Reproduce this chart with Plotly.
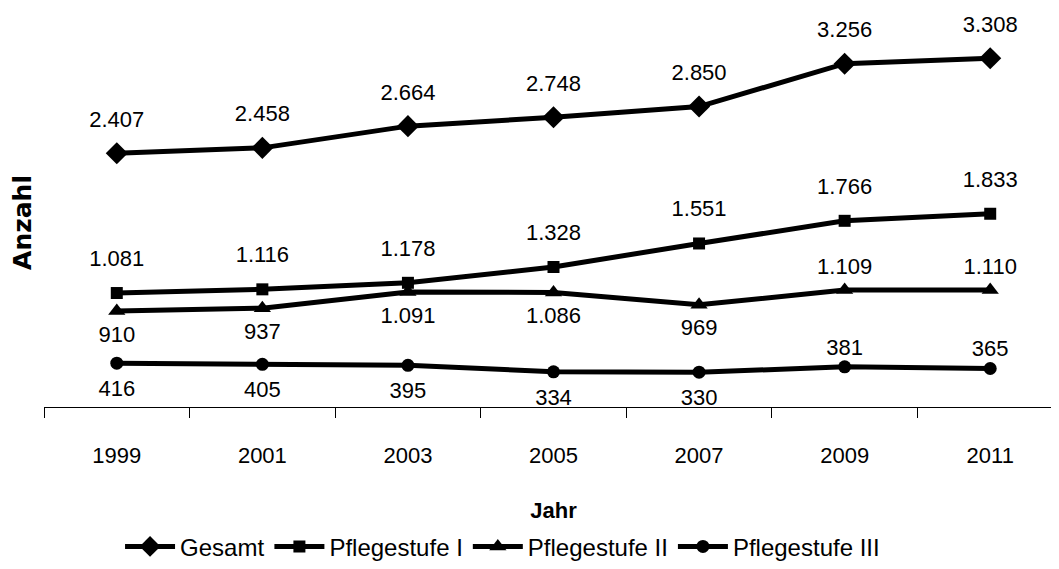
import plotly.graph_objects as go

years = ["1999", "2001", "2003", "2005", "2007", "2009", "2011"]
gesamt = [2407, 2458, 2664, 2748, 2850, 3256, 3308]
stufe1 = [1081, 1116, 1178, 1328, 1551, 1766, 1833]
stufe2 = [910, 937, 1091, 1086, 969, 1109, 1110]
stufe3 = [416, 405, 395, 334, 330, 381, 365]

series_names = ["Gesamt", "Pflegestufe I", "Pflegestufe II", "Pflegestufe III"]

# label placement (style)
pos_gesamt = ["top center"] * 7
pos_s1 = ["top center"] * 7
pos_s2 = ["bottom center"] * 5 + ["top center"] * 2
pos_s3 = ["bottom center"] * 5 + ["top center"] * 2
# invisible spacer marker sizes that set the label distance (style)
gap_gesamt = [32] * 7
gap_s1 = [33] * 7
gap_s2 = [21] * 5 + [15] * 2
gap_s3 = [25] * 5 + [9] * 2

FONT = "Liberation Sans, Arial, sans-serif"

styles = [
    dict(symbol="diamond", size=17),
    dict(symbol="square", size=12),
    dict(symbol="triangle-up", size=15),
    dict(symbol="circle", size=13),
]

fig = go.Figure()
all_vals = [gesamt, stufe1, stufe2, stufe3]
all_pos = [pos_gesamt, pos_s1, pos_s2, pos_s3]
all_gap = [gap_gesamt, gap_s1, gap_s2, gap_s3]
for name, vals, st in zip(series_names, all_vals, styles):
    fig.add_trace(go.Scatter(
        x=years, y=vals, name=name, mode="lines+markers",
        line=dict(color="black", width=5),
        marker=dict(symbol=st["symbol"], size=st["size"], color="black",
                    line=dict(width=0)),
    ))
for name, vals, pos, gap in zip(series_names, all_vals, all_pos, all_gap):
    fig.add_trace(go.Scatter(
        x=years, y=vals, name=name, mode="markers+text", showlegend=False,
        text=[f"{v:,}".replace(",", ".") for v in vals],
        textposition=pos,
        textfont=dict(family=FONT, size=22, color="black"),
        marker=dict(size=gap, color="rgba(0,0,0,0)", opacity=0,
                    line=dict(width=0, color="rgba(0,0,0,0)")),
        cliponaxis=False, hoverinfo="skip",
    ))

fig.update_layout(
    width=1059, height=569,
    margin=dict(l=36, r=4, t=30, b=170, autoexpand=False),
    paper_bgcolor="white", plot_bgcolor="white",
    showlegend=True,
    legend=dict(orientation="h", x=0.45, xanchor="center", y=-0.379, yanchor="middle",
                font=dict(family=FONT, size=24, color="black"),
                itemwidth=50, tracegroupgap=0),
    xaxis=dict(
        type="category", range=[-0.5, 6.5], automargin=False,
        showline=True, linecolor="black", linewidth=1,
        ticks="outside", tickson="boundaries", ticklen=10, tickcolor="black",
        ticklabelstandoff=29,
        tickfont=dict(family=FONT, size=22, color="black"),
        showgrid=False, zeroline=False,
        title=dict(text="<b>Jahr</b>", standoff=35,
                   font=dict(family=FONT, size=22, color="black")),
    ),
    yaxis=dict(
        range=[0, 3500], automargin=False,
        showline=False, showgrid=False, zeroline=False,
        showticklabels=False, ticks="",
        title=dict(text="<b>Anzahl</b>", standoff=10,
                   font=dict(family="DejaVu Sans, Liberation Sans, sans-serif", size=25, color="black")),
    ),
)

fig.write_html("out.html")
